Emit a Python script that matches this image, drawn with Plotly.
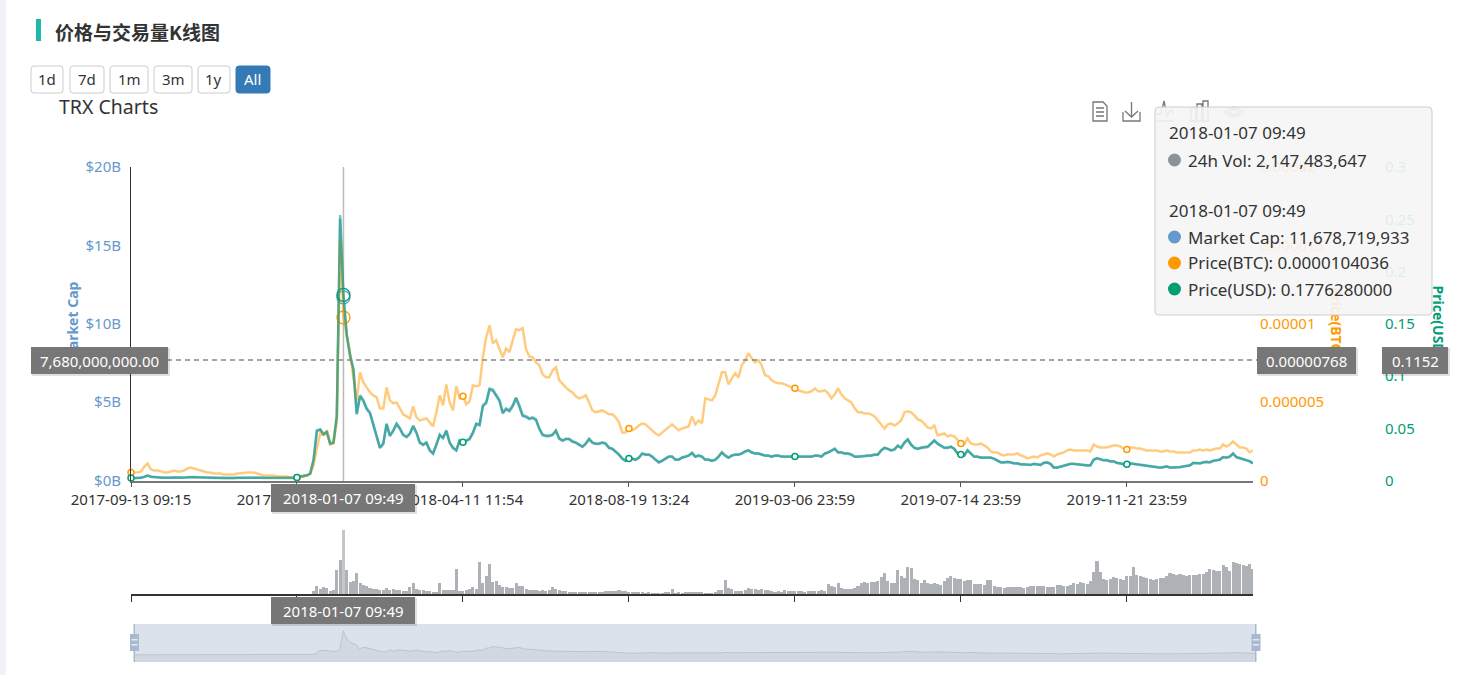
import plotly.graph_objects as go

W = 1475
H = 675

# tick labels of the category axis, one every 50 samples
tick_labels = ['2017-09-13 09:15', '2017-12-08 10:02', '2018-04-11 11:54', '2018-08-19 13:24',
               '2019-03-06 23:59', '2019-07-14 23:59', '2019-11-21 23:59']
tick_index = [0, 50, 100, 150, 200, 250, 300]
hover_index = 64

# Price(USD) in dollars
price_usd = [
    .0023, .0023, .0024, .0026, .0035, .0048, .0036, .0031, .0030, .0028,
    .0026, .0026, .0027, .0029, .0028, .0027, .0028, .0031, .0034, .0032,
    .0030, .0029, .0027, .0026, .0025, .0025, .0024, .0024, .0023, .0024,
    .0025, .0025, .0026, .0027, .0027, .0028, .0028, .0028, .0027, .0026,
    .0025, .0024, .0024, .0024, .0023, .0023, .0023, .0023, .0024, .0024,
    .0029, .0038, .0043, .0050, .0067, .0200, .0480, .0490, .0445, .0465,
    .0355, .0365, .0620, .2540, .1776, .1400, .1200, .1070, .0640, .0815,
    .0770, .0690, .0650, .0545, .0420, .0315, .0355, .0545, .0430, .0480,
    .0545, .0500, .0440, .0420, .0450, .0525, .0460, .0365, .0345, .0365,
    .0290, .0260, .0345, .0440, .0410, .0480, .0365, .0315, .0290, .0385,
    .0365, .0385, .0400, .0460, .0545, .0535, .0720, .0750, .0880, .0870,
    .0825, .0770, .0650, .0690, .0670, .0720, .0795, .0720, .0625, .0615,
    .0595, .0605, .0585, .0500, .0440, .0430, .0430, .0440, .0480, .0405,
    .0385, .0400, .0400, .0375, .0365, .0345, .0325, .0355, .0400, .0365,
    .0355, .0355, .0365, .0355, .0315, .0305, .0280, .0250, .0210, .0190,
    .0210, .0210, .0200, .0220, .0260, .0250, .0250, .0230, .0200, .0175,
    .0190, .0210, .0230, .0230, .0200, .0200, .0220, .0230, .0240, .0265,
    .0230, .0240, .0230, .0200, .0200, .0190, .0200, .0230, .0270, .0240,
    .0220, .0240, .0250, .0250, .0260, .0280, .0290, .0270, .0260, .0260,
    .0250, .0240, .0240, .0230, .0240, .0240, .0230, .0230, .0225, .0230,
    .0230, .0225, .0225, .0230, .0230, .0230, .0240, .0240, .0230, .0260,
    .0270, .0290, .0305, .0270, .0270, .0260, .0260, .0250, .0230, .0230,
    .0235, .0235, .0240, .0240, .0250, .0250, .0290, .0315, .0305, .0290,
    .0300, .0335, .0315, .0365, .0395, .0345, .0315, .0305, .0315, .0320,
    .0325, .0355, .0385, .0355, .0335, .0315, .0315, .0325, .0305, .0260,
    .0250, .0240, .0290, .0260, .0230, .0230, .0220, .0220, .0220, .0220,
    .0210, .0190, .0175, .0175, .0180, .0175, .0165, .0165, .0155, .0155,
    .0155, .0150, .0160, .0155, .0150, .0170, .0175, .0160, .0125, .0125,
    .0135, .0145, .0155, .0160, .0160, .0155, .0155, .0150, .0145, .0145,
    .0200, .0215, .0205, .0195, .0195, .0185, .0185, .0170, .0165, .0155,
    .0155, .0165, .0160, .0155, .0150, .0145, .0145, .0140, .0135, .0130,
    .0125, .0130, .0135, .0125, .0125, .0130, .0130, .0135, .0140, .0145,
    .0170, .0170, .0165, .0175, .0180, .0175, .0190, .0195, .0200, .0225,
    .0220, .0230, .0260, .0225, .0215, .0210, .0200, .0185, .0165]

# Price(BTC) in millionths of a BTC
price_btc_e6 = [
    .51, .51, .51, .58, .89, 1.09, .70, .64, .64, .58,
    .51, .51, .58, .64, .58, .58, .64, .77, .83, .77,
    .70, .64, .58, .51, .51, .45, .45, .45, .38, .38,
    .38, .38, .45, .45, .48, .51, .51, .51, .45, .38,
    .32, .32, .32, .32, .26, .26, .26, .26, .19, .19,
    .19, .22, .26, .32, .45, .96, 2.04, 3.0, 2.9, 3.2,
    2.30, 2.36, 3.83, 15.3, 10.40, 9.27, 8.12, 6.58, 5.11, 6.90,
    6.26, 5.94, 5.62, 5.43, 5.30, 4.60, 4.60, 5.94, 5.11, 4.92,
    4.98, 4.60, 4.22, 4.09, 3.96, 4.73, 4.03, 3.83, 3.90, 3.96,
    3.71, 3.45, 4.35, 5.43, 4.79, 6.13, 4.98, 4.47, 6.01, 5.24,
    5.37, 4.86, 5.05, 6.07, 6.01, 6.07, 7.86, 9.14, 9.90, 8.75,
    8.95, 8.43, 7.86, 8.43, 8.18, 8.95, 9.65, 9.59, 9.71, 8.37,
    7.92, 7.86, 7.54, 7.35, 6.77, 6.58, 6.58, 7.03, 7.22, 6.39,
    6.13, 5.94, 5.75, 5.62, 5.37, 5.24, 5.30, 5.43, 4.98, 4.47,
    4.35, 4.41, 4.47, 4.35, 4.22, 4.22, 4.03, 3.71, 3.07, 3.07,
    3.32, 3.20, 3.32, 3.51, 3.64, 3.58, 3.39, 3.20, 3.00, 2.88,
    3.07, 3.20, 3.39, 3.58, 3.39, 3.20, 3.32, 3.39, 3.45, 4.09,
    3.58, 3.83, 3.64, 5.24, 5.18, 5.11, 5.43, 6.13, 6.90, 6.90,
    6.13, 6.52, 6.84, 6.58, 7.35, 7.67, 8.12, 7.80, 7.54, 7.67,
    7.35, 6.71, 6.65, 6.39, 6.26, 6.20, 6.20, 6.13, 6.01, 5.94,
    5.88, 5.75, 5.69, 5.62, 5.62, 5.69, 5.88, 5.69, 5.69, 5.75,
    5.56, 5.24, 5.50, 5.88, 5.50, 5.24, 5.11, 4.98, 4.60, 4.35,
    4.35, 4.28, 4.28, 4.22, 4.09, 3.83, 3.51, 3.32, 3.58, 3.64,
    3.51, 3.64, 3.83, 4.35, 4.41, 4.35, 4.15, 3.90, 3.83, 3.64,
    3.39, 3.32, 3.51, 2.88, 2.94, 3.00, 2.81, 2.88, 2.81, 2.56,
    2.36, 2.30, 2.68, 2.36, 2.30, 2.30, 2.36, 2.24, 2.11, 1.85,
    1.79, 1.79, 1.66, 1.60, 1.66, 1.66, 1.66, 1.73, 1.60, 1.53,
    1.41, 1.47, 1.53, 1.47, 1.60, 1.66, 1.73, 1.66, 1.53, 1.66,
    1.73, 1.79, 1.92, 1.98, 1.92, 1.92, 1.92, 1.92, 1.92, 1.85,
    2.30, 2.17, 2.11, 2.11, 2.11, 2.17, 2.24, 2.24, 2.17, 2.04,
    1.98, 2.11, 2.11, 2.04, 2.04, 1.98, 1.92, 1.92, 1.92, 1.92,
    1.85, 1.85, 1.92, 1.85, 1.85, 1.79, 1.79, 1.79, 1.79, 1.79,
    1.92, 1.92, 1.98, 1.92, 1.98, 1.92, 1.98, 2.04, 2.04, 2.30,
    2.17, 2.30, 2.49, 2.30, 2.11, 2.11, 2.04, 1.79, 1.92]

# Market Cap in billions of dollars
market_cap_b = [
    .15, .15, .16, .17, .23, .32, .24, .20, .20, .18,
    .17, .17, .18, .19, .18, .18, .18, .20, .22, .21,
    .20, .19, .18, .17, .16, .16, .16, .16, .15, .16,
    .16, .16, .17, .18, .18, .18, .18, .18, .18, .17,
    .16, .16, .16, .16, .15, .15, .15, .15, .16, .16,
    .19, .25, .28, .33, .44, 1.32, 3.16, 3.22, 2.93, 3.06,
    2.33, 2.40, 4.08, 16.7, 11.68, 9.21, 7.89, 7.04, 4.21, 5.36,
    5.06, 4.54, 4.27, 3.58, 2.76, 2.07, 2.33, 3.58, 2.83, 3.16,
    3.58, 3.29, 2.89, 2.76, 2.96, 3.45, 3.02, 2.40, 2.27, 2.40,
    1.91, 1.71, 2.27, 2.89, 2.70, 3.16, 2.40, 2.07, 1.91, 2.53,
    2.40, 2.53, 2.63, 3.02, 3.58, 3.52, 4.73, 4.93, 5.79, 5.72,
    5.42, 5.06, 4.27, 4.54, 4.41, 4.73, 5.23, 4.73, 4.11, 4.04,
    3.91, 3.98, 3.85, 3.29, 2.89, 2.83, 2.83, 2.89, 3.16, 2.66,
    2.53, 2.63, 2.63, 2.47, 2.40, 2.27, 2.14, 2.33, 2.63, 2.40,
    2.33, 2.33, 2.40, 2.33, 2.07, 2.01, 1.84, 1.64, 1.38, 1.25,
    1.38, 1.38, 1.32, 1.45, 1.71, 1.64, 1.64, 1.51, 1.32, 1.15,
    1.25, 1.38, 1.51, 1.51, 1.32, 1.32, 1.45, 1.51, 1.58, 1.74,
    1.51, 1.58, 1.51, 1.32, 1.32, 1.25, 1.32, 1.51, 1.78, 1.58,
    1.45, 1.58, 1.64, 1.64, 1.71, 1.84, 1.91, 1.78, 1.71, 1.71,
    1.64, 1.58, 1.58, 1.51, 1.58, 1.58, 1.51, 1.51, 1.48, 1.51,
    1.51, 1.48, 1.48, 1.51, 1.51, 1.51, 1.58, 1.58, 1.51, 1.71,
    1.78, 1.91, 2.01, 1.78, 1.78, 1.71, 1.71, 1.64, 1.51, 1.51,
    1.55, 1.55, 1.58, 1.58, 1.64, 1.64, 1.91, 2.07, 2.01, 1.91,
    1.97, 2.20, 2.07, 2.40, 2.60, 2.27, 2.07, 2.01, 2.07, 2.10,
    2.14, 2.33, 2.53, 2.33, 2.20, 2.07, 2.07, 2.14, 2.01, 1.71,
    1.64, 1.58, 1.91, 1.71, 1.51, 1.51, 1.45, 1.45, 1.45, 1.45,
    1.38, 1.25, 1.15, 1.15, 1.18, 1.15, 1.08, 1.08, 1.02, 1.02,
    1.02, .99, 1.05, 1.02, .99, 1.12, 1.15, 1.05, .82, .82,
    .89, .95, 1.02, 1.05, 1.05, 1.02, 1.02, .99, .95, .95,
    1.32, 1.41, 1.35, 1.28, 1.28, 1.22, 1.22, 1.12, 1.08, 1.02,
    1.02, 1.08, 1.05, 1.02, .99, .95, .95, .92, .89, .85,
    .82, .85, .89, .82, .82, .85, .85, .89, .92, .95,
    1.12, 1.12, 1.08, 1.15, 1.18, 1.15, 1.25, 1.28, 1.32, 1.48,
    1.45, 1.51, 1.71, 1.48, 1.41, 1.38, 1.32, 1.22, 1.08]

# 24h Vol in millions of dollars
volume_m = [
    1, 1, 1, 1, 1, 1, 1, 1, 1, 1,
    1, 1, 1, 1, 1, 1, 1, 1, 1, 1,
    1, 1, 1, 1, 1, 1, 1, 1, 1, 1,
    1, 1, 1, 1, 1, 1, 1, 1, 1, 1,
    1, 1, 1, 1, 1, 1, 1, 1, 1, 1,
    2, 3, 10, 10, 10, 101, 268, 168, 235, 201,
    101, 134, 805, 1141, 2147.48, 805, 403, 436, 705, 369,
    302, 268, 201, 168, 168, 134, 134, 201, 134, 168,
    134, 134, 101, 101, 235, 369, 168, 134, 134, 101,
    101, 67, 67, 369, 134, 134, 134, 134, 839, 101,
    101, 134, 168, 235, 168, 1074, 369, 604, 1007, 403,
    436, 302, 235, 235, 201, 201, 369, 268, 268, 168,
    134, 134, 134, 101, 134, 101, 134, 235, 168, 134,
    101, 101, 84, 84, 67, 84, 67, 67, 67, 67,
    67, 67, 84, 101, 117, 117, 101, 134, 101, 101,
    84, 84, 67, 67, 67, 50, 67, 50, 50, 50,
    50, 67, 67, 168, 50, 67, 50, 67, 67, 67,
    67, 67, 67, 50, 50, 50, 67, 134, 134, 470,
    201, 168, 101, 101, 101, 134, 201, 168, 168, 134,
    168, 134, 134, 101, 84, 101, 84, 134, 101, 101,
    117, 101, 101, 84, 101, 101, 101, 117, 134, 101,
    336, 268, 235, 369, 201, 168, 168, 168, 201, 268,
    369, 403, 369, 403, 403, 436, 570, 705, 436, 369,
    369, 805, 604, 537, 906, 872, 503, 470, 369, 470,
    369, 336, 369, 336, 302, 436, 537, 604, 537, 503,
    503, 436, 470, 470, 336, 336, 336, 302, 470, 470,
    268, 235, 235, 201, 235, 235, 235, 235, 235, 201,
    235, 268, 268, 268, 268, 268, 235, 235, 235, 302,
    302, 268, 268, 302, 369, 336, 403, 369, 336, 436,
    738, 1107, 738, 503, 470, 503, 570, 537, 503, 470,
    604, 604, 906, 637, 604, 570, 537, 503, 470, 503,
    537, 537, 604, 705, 671, 637, 671, 637, 604, 637,
    637, 637, 671, 671, 738, 839, 805, 772, 772, 973,
    906, 772, 1074, 1040, 1007, 973, 939, 1007, 839]

cap_ticks = [0, 5, 10, 15, 20]
cap_tick_text = ['$0B', '$5B', '$10B', '$15B', '$20B']
btc_ticks = [0, 5, 10, 15, 20]
btc_tick_text = ['0', '0.000005', '0.00001', '0.000015', '0.00002']
usd_ticks = [0, .05, .1, .15, .2, .25, .3]
usd_tick_text = ['0', '0.05', '0.1', '0.15', '0.2', '0.25', '0.3']

BLUE = '#6699cc'
ORANGE = '#ff9900'
GREEN = '#009e73'
FONT = 'Noto Sans'
CJK = 'Noto Sans CJK SC'


def fx(px):
    return px / W


def fy(px):
    return 1 - px / H


# turns a path written in page pixels into paper coordinates
def px_path(text):
    out = []
    is_x = True
    for tok in text.split():
        if tok.isalpha():
            out.append(tok)
            is_x = True
        else:
            out.append(str(round(fx(float(tok)) if is_x else fy(float(tok)), 5)))
            is_x = not is_x
    return ' '.join(out)


def round_rect(x0, y0, x1, y1, r):
    return (f'M {x0+r} {y0} L {x1-r} {y0} Q {x1} {y0} {x1} {y0+r} L {x1} {y1-r} Q {x1} {y1} {x1-r} {y1} '
            f'L {x0+r} {y1} Q {x0} {y1} {x0} {y1-r} L {x0} {y0+r} Q {x0} {y0} {x0+r} {y0} Z')


shapes = []
annotations = []


def add_rect(x0, y0, x1, y1, fill, layer='above', line=None, width=0):
    shapes.append(dict(type='rect', xref='paper', yref='paper', x0=fx(x0), x1=fx(x1), y0=fy(y0), y1=fy(y1),
                       fillcolor=fill, layer=layer, line=dict(color=line or fill, width=width)))


def add_path(path, line='#777777', width=1.3, fill='rgba(0,0,0,0)', layer='above'):
    shapes.append(dict(type='path', xref='paper', yref='paper', path=px_path(path), fillcolor=fill,
                       layer=layer, line=dict(color=line, width=width)))


def add_text(x, y, text, size=14, color='#333333', anchor='left', family=FONT, weight=None):
    font = dict(family=family, size=size, color=color)
    if weight:
        font['weight'] = weight
    annotations.append(dict(xref='paper', yref='paper', x=fx(x), y=fy(y), text=text, showarrow=False,
                            xanchor=anchor, yanchor='middle', font=font, borderpad=0))


def axis_title(x, y, text, color, angle):
    shapes.append(dict(type='rect', xref='paper', yref='paper', x0=fx(x - 9), x1=fx(x + 9),
                       y0=fy(y + 45), y1=fy(y - 45), layer='above', fillcolor='rgba(0,0,0,0)',
                       line=dict(width=0),
                       label=dict(text=text, textangle=angle, textposition='middle center',
                                  font=dict(family=FONT, size=14, color=color, weight=700))))


def pointer_label(x0, y0, x1, y1, text):
    add_rect(x0 + 1, y0 + 1, x1 + 2, y1 + 2, 'rgba(0,0,0,0.12)')
    add_rect(x0, y0, x1, y1, '#777777')
    add_text((x0 + x1) / 2, (y0 + y1) / 2, text, size=15, color='#ffffff', anchor='center')


x_all = list(range(len(price_usd)))
price_btc = [v * 1e-6 for v in price_btc_e6]
market_cap = [v * 1e9 for v in market_cap_b]
volume = [v * 1e6 for v in volume_m]
bar_colors = ['rgba(190,192,195,0.9)' if i == hover_index else 'rgba(130,135,142,0.65)' for i in x_all]

fig = go.Figure()

# slider shadow sits under everything
fig.add_trace(go.Scatter(x=x_all, y=market_cap_b, xaxis='x3', yaxis='y5', mode='lines', fill='tozeroy',
                         fillcolor='rgba(47,69,84,0.06)', line=dict(color='rgba(47,69,84,0.16)', width=1),
                         hoverinfo='skip', showlegend=False))

fig.add_trace(go.Bar(x=x_all, y=volume, xaxis='x2', yaxis='y4', name='24h Vol',
                     marker=dict(color=bar_colors, line=dict(width=0)), width=0.92))
fig.add_trace(go.Scatter(x=x_all, y=market_cap, yaxis='y', mode='lines', name='Market Cap',
                         line=dict(color='rgba(102,153,204,0.7)', width=2.5)))
fig.add_trace(go.Scatter(x=x_all, y=price_btc, yaxis='y2', mode='lines', name='Price(BTC)',
                         line=dict(color='rgba(255,153,0,0.5)', width=2.5)))
fig.add_trace(go.Scatter(x=x_all, y=price_usd, yaxis='y3', mode='lines', name='Price(USD)',
                         line=dict(color='rgba(0,158,115,0.55)', width=2.5)))

# small open markers on the category ticks
for series, color, axis in [(price_btc, ORANGE, 'y2'), (price_usd, GREEN, 'y3')]:
    fig.add_trace(go.Scatter(x=tick_index, y=[series[i] for i in tick_index], yaxis=axis, mode='markers', cliponaxis=False,
                             marker=dict(size=6, color='white', line=dict(color=color, width=1.5)),
                             hoverinfo='skip', showlegend=False))

# hovered point
for series, color, axis in [(market_cap, BLUE, 'y'), (price_btc, ORANGE, 'y2'), (price_usd, GREEN, 'y3')]:
    fig.add_trace(go.Scatter(x=[hover_index], y=[series[hover_index]], yaxis=axis, mode='markers', cliponaxis=False,
                             marker=dict(size=13, color='rgba(255,255,255,0)', line=dict(color=color, width=1.3)),
                             hoverinfo='skip', showlegend=False))

# page furniture
add_rect(0, 0, 6, H, '#f0f2f7', layer='below')
add_rect(36, 19, 41, 41, '#20b8aa', layer='below')
add_text(54, 31, '价格与交易量K线图', size=19, family=CJK, weight=700)

buttons = [('1d', 31, 63), ('7d', 70, 104), ('1m', 110, 148), ('3m', 154, 192), ('1y', 198, 230), ('All', 236, 270)]
for label, x0, x1 in buttons:
    active = label == 'All'
    add_path(round_rect(x0, 66, x1, 93, 3), line='#337ab7' if active else '#cccccc', width=1,
             fill='#337ab7' if active else '#ffffff')
    add_text((x0 + x1) / 2, 79.5, label, size=15, color='#ffffff' if active else '#333333', anchor='center')

add_text(58, 107, 'TRX Charts', size=19.5)

# slider
add_rect(134, 624, 1256, 662, 'rgba(167,183,204,0.4)', layer='below')
add_rect(134, 655, 1256, 662, 'rgba(47,69,84,0.06)', layer='below')
add_rect(133.5, 624, 135, 662, '#a9b9d2')
add_rect(1255, 624, 1256.5, 662, '#a9b9d2')
for hx in [134.5, 1256]:
    add_rect(hx - 4.5, 634, hx + 4.5, 651, '#a9b9d2')
    add_rect(hx - 3, 639, hx + 3, 640.5, '#e6ebf2')
    add_rect(hx - 3, 644, hx + 3, 645.5, '#e6ebf2')

# toolbox icons
add_path('M 1093 102 L 1103 102 L 1107 106 L 1107 121 L 1093 121 Z')
add_path('M 1096 108 L 1104 108 M 1096 112 L 1104 112 M 1096 116 L 1104 116')
add_path('M 1123 112 L 1123 121 L 1140 121 L 1140 112')
add_path('M 1131.5 102 L 1131.5 117 M 1125 111 L 1131.5 117 L 1138 111')
add_path('M 1157 121 L 1174 121 M 1157 114 L 1161 114 L 1164 101 L 1167 116 L 1170 110 L 1174 113')
add_path('M 1191 108 L 1196 108 L 1196 121 L 1191 121 Z M 1197 104 L 1202 104 L 1202 121 L 1197 121 Z '
         'M 1203 101 L 1208 101 L 1208 121 L 1203 121 Z')
add_path('M 1225 112 Q 1234 103 1243 112 Q 1234 121 1225 112 Z M 1229 112 Q 1234 107 1239 112 Q 1234 117 1229 112 Z')

# crosshair lines
shapes.append(dict(type='line', xref='x', yref='paper', x0=hover_index, x1=hover_index, y0=fy(481), y1=fy(167),
                   layer='below', line=dict(color='#bbbbbb', width=1.5)))
shapes.append(dict(type='line', xref='paper', yref='y', x0=fx(131), x1=fx(1257), y0=7.68e9, y1=7.68e9,
                   layer='above', line=dict(color='#888888', width=1.5, dash='5px,4px')))

# axis titles stay below the tooltip and the pointer labels
axis_title(73, 322, 'Market Cap', BLUE, -90)
axis_title(1335, 322, 'Price(BTC)', ORANGE, 90)
axis_title(1437, 322, 'Price(USD)', GREEN, 90)

pointer_label(31, 347, 168, 374, '7,680,000,000.00')
pointer_label(1257, 347, 1356, 374, '0.00000768')
pointer_label(1382, 347, 1448, 374, '0.1152')
pointer_label(271, 484, 415, 512, '2018-01-07 09:49')
pointer_label(271, 597, 415, 624, '2018-01-07 09:49')

# tooltip
add_path(round_rect(1155, 107, 1432, 315, 4), line='#cccccc', width=1, fill='rgba(245,245,245,0.9)')
for cy, color in [(160, '#8d9299'), (237, BLUE), (263, ORANGE), (289, GREEN)]:
    shapes.append(dict(type='circle', xref='paper', yref='paper', x0=fx(1168), x1=fx(1181), y0=fy(cy + 6.5), y1=fy(cy - 6.5),
                       fillcolor=color, layer='above', line=dict(width=0)))
add_text(1168, 133, '2018-01-07 09:49', size=17)
add_text(1187, 160, '24h Vol: 2,147,483,647', size=17)
add_text(1168, 211, '2018-01-07 09:49', size=17)
add_text(1187, 237, 'Market Cap: 11,678,719,933', size=17)
add_text(1187, 263, 'Price(BTC): 0.0000104036', size=17)
add_text(1187, 289, 'Price(USD): 0.1776280000', size=17)

main_domain = [fy(480.5), fy(167)]
x_domain = [fx(131), fx(1253)]
x_range = [0, len(x_all) - 1]

fig.update_layout(
    template='none',
    width=W, height=H,
    margin=dict(l=0, r=0, t=0, b=0, pad=0, autoexpand=False),
    paper_bgcolor='white', plot_bgcolor='white',
    showlegend=False, bargap=0,
    font=dict(family=FONT, size=15, color='#333333'),
    shapes=shapes, annotations=annotations,
    xaxis=dict(domain=x_domain, range=x_range, anchor='y', tickvals=tick_index, ticktext=tick_labels, automargin=False,
               ticks='outside', ticklen=5, tickcolor='#555555', showgrid=False, zeroline=False,
               showline=True, linecolor='#777777', linewidth=1.5, tickfont=dict(size=15, color='#333333')),
    xaxis2=dict(domain=x_domain, range=x_range, anchor='y4', tickvals=tick_index, ticktext=[''] * len(tick_index), automargin=False,
                ticks='outside', ticklen=6, tickcolor='#333333', showgrid=False, zeroline=False,
                showline=True, linecolor='#333333', linewidth=1.5),
    xaxis3=dict(domain=[fx(134), fx(1256)], range=x_range, anchor='y5', visible=False, automargin=False),
    yaxis=dict(domain=main_domain, range=[0, 20e9], anchor='x', tickvals=[v * 1e9 for v in cap_ticks], ticktext=cap_tick_text,
               automargin=False, ticks='', showgrid=False, zeroline=False, showline=True, linecolor='#333333', linewidth=1,
               ticklabelstandoff=6, tickfont=dict(size=15, color=BLUE)),
    yaxis2=dict(domain=main_domain, range=[0, 20e-6], overlaying='y', side='right', anchor='free', position=fx(1253),
                tickvals=[v * 1e-6 for v in btc_ticks], ticktext=btc_tick_text, automargin=False, ticks='', showgrid=False,
                zeroline=False, showline=False, ticklabelstandoff=6, tickfont=dict(size=15, color=ORANGE)),
    yaxis3=dict(domain=main_domain, range=[0, 0.3], overlaying='y', side='right', anchor='free', position=fx(1382),
                tickvals=usd_ticks, ticktext=usd_tick_text, automargin=False, ticks='', showgrid=False, zeroline=False,
                showline=False, ticklabelstandoff=2, tickfont=dict(size=15, color=GREEN)),
    yaxis4=dict(domain=[fy(594), fy(530)], range=[0, 2147483647], anchor='x2', visible=False, automargin=False),
    yaxis5=dict(domain=[fy(662), fy(624)], range=[-4.8, 21.4], anchor='x3', visible=False, automargin=False),
)

fig.write_html('out.html', config={'displayModeBar': False},
               post_script="document.body.style.margin='0';document.documentElement.style.overflow='hidden';")
